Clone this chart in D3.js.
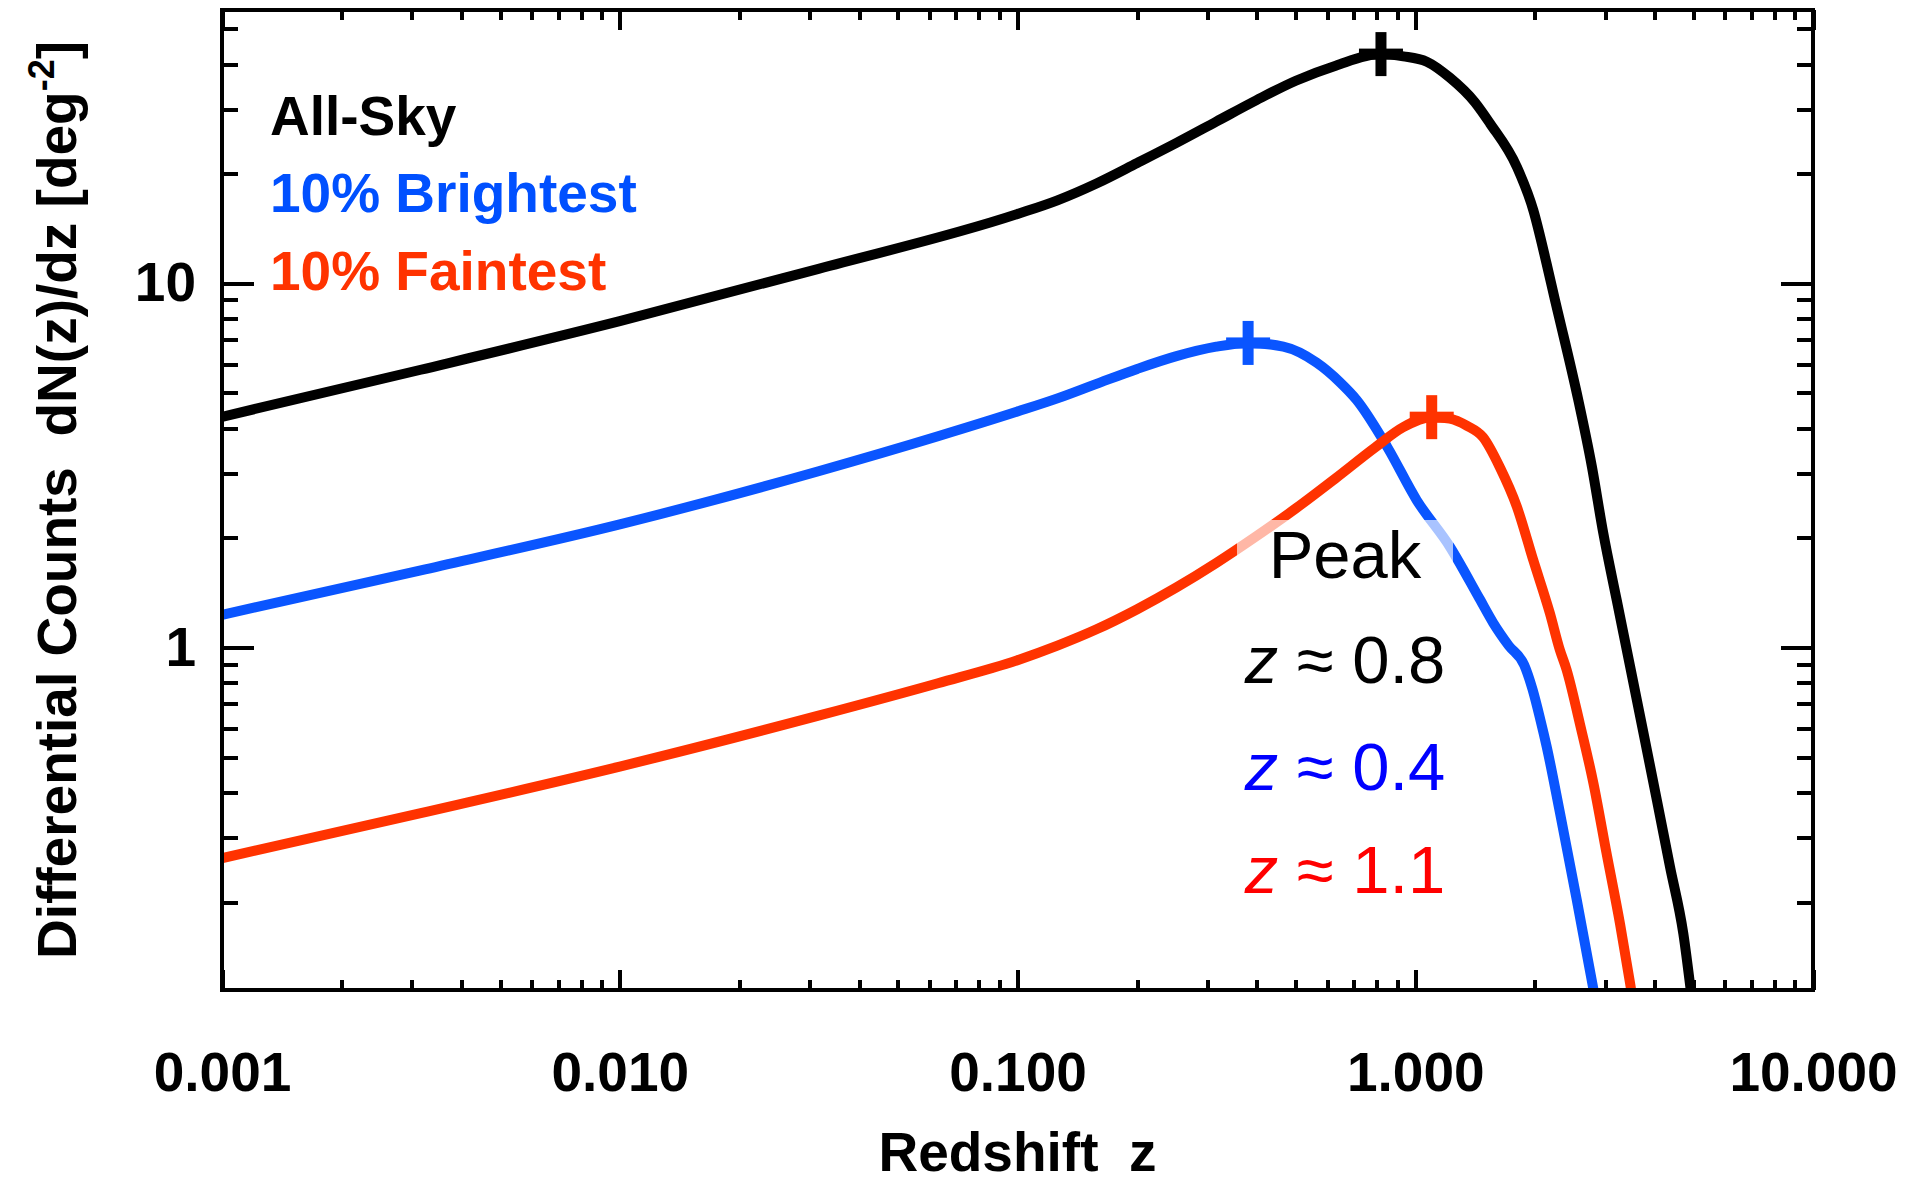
<!DOCTYPE html>
<html>
<head>
<meta charset="utf-8">
<script src="https://cdn.jsdelivr.net/npm/d3@7"></script>
<style>
  html, body { margin: 0; padding: 0; background: #ffffff; }
  svg { display: block; }
  text { font-family: "Liberation Sans", Arial, Helvetica, sans-serif; }
</style>
</head>
<body>
<svg id="chart" width="1923" height="1185"></svg>
<script>
// Redshift grid and differential counts dN/dz [deg^-2] for each sample
const allSkyZ = [0.001, 0.00316, 0.01, 0.0316, 0.1, 0.126, 0.158, 0.2, 0.251, 0.316, 0.398, 0.501, 0.631, 0.82, 0.933, 1.069, 1.222, 1.413, 1.541, 1.80, 1.98, 2.14, 2.245, 2.31, 2.57, 2.78, 2.97, 3.21, 3.47, 3.75, 4.05, 4.37, 4.72, 4.95];
const allSkyN = [4.30, 5.79, 7.87, 10.96, 15.5, 16.9, 18.8, 21.4, 24.3, 27.8, 31.8, 36.0, 39.6, 42.6, 42.0, 40.6, 36.7, 31.4, 27.5, 20.9, 15.9, 11.3, 9.0, 7.9, 4.78, 3.14, 2.06, 1.35, 0.886, 0.581, 0.381, 0.25, 0.164, 0.11];

const brightZ = [0.001, 0.00316, 0.01, 0.0316, 0.0631, 0.1, 0.126, 0.158, 0.2, 0.251, 0.316, 0.38, 0.466, 0.565, 0.647, 0.712, 0.851, 1.008, 1.222, 1.449, 1.570, 1.718, 1.879, 1.972, 2.065, 2.138, 2.312, 2.547, 2.72, 2.85];
const brightN = [1.230, 1.629, 2.178, 3.048, 3.802, 4.446, 4.831, 5.297, 5.821, 6.310, 6.699, 6.86, 6.699, 6.053, 5.346, 4.786, 3.548, 2.541, 1.891, 1.365, 1.169, 1.012, 0.895, 0.767, 0.631, 0.537, 0.351, 0.203, 0.138, 0.105];

const faintZ = [0.001, 0.00316, 0.01, 0.0316, 0.0631, 0.1, 0.126, 0.158, 0.2, 0.251, 0.316, 0.398, 0.501, 0.631, 0.794, 0.933, 1.10, 1.22, 1.35, 1.48, 1.633, 1.80, 1.98, 2.18, 2.31, 2.40, 2.594, 2.805, 3.027, 3.273, 3.467, 3.55];
const faintN = [0.264, 0.351, 0.471, 0.650, 0.798, 0.923, 1.012, 1.122, 1.274, 1.462, 1.706, 2.018, 2.410, 2.917, 3.548, 4.027, 4.29, 4.25, 4.06, 3.78, 3.12, 2.438, 1.738, 1.242, 0.984, 0.871, 0.617, 0.424, 0.272, 0.174, 0.120, 0.102];

// Peak positions of the three samples
const peakZ = [0.82, 0.38, 1.10];
const peakN = [42.6, 6.86, 4.29];

const seriesNames = ["All-Sky", "10% Brightest", "10% Faintest"];
const peakLabels = ["0.8", "0.4", "1.1"];

// Axis ticks
const xMajorTicks = [0.001, 0.01, 0.1, 1, 10];
const xMinorTicks = [0.001, 0.01, 0.1, 1].flatMap(d => [2, 3, 4, 5, 6, 7, 8, 9].map(k => +(k * d).toPrecision(3)));
const yMajorTicks = [1, 10];
const yMinorTicks = [0.2, 0.3, 0.4, 0.5, 0.6, 0.7, 0.8, 0.9, 2, 3, 4, 5, 6, 7, 8, 9, 20, 30, 40, 50];

const lineColors = ["#000000", "#0a55ff", "#ff3300"];
const labelColors = ["#000000", "#0050ff", "#ff3300"];
const peakTextColors = ["#000000", "#0000ff", "#ff0000"];

const svg = d3.select("#chart");
const plot = { left: 222, right: 1813, top: 10, bottom: 990 };
const W = plot.right - plot.left, H = plot.bottom - plot.top;

const x = d3.scaleLog().domain([0.001, 10]).range([plot.left, plot.right]);
const y = d3.scaleLog().domain([0.1147, 56.3]).range([plot.bottom, plot.top]);

const tickLenX = 0.02 * H, tickLenY = 0.02 * W;
const FONT = 55;

svg.append("defs").append("clipPath").attr("id", "plotClip")
  .append("rect").attr("x", plot.left).attr("y", plot.top).attr("width", W).attr("height", H);

// Curves
const line = d3.line().x(d => x(d[0])).y(d => y(d[1])).curve(d3.curveMonotoneX);
const curves = [
  d3.zip(allSkyZ, allSkyN),
  d3.zip(brightZ, brightN),
  d3.zip(faintZ, faintN)
];
const gCurves = svg.append("g").attr("clip-path", "url(#plotClip)");
gCurves.selectAll("path.curve").data(curves).join("path")
  .attr("class", "curve")
  .attr("d", line)
  .attr("fill", "none")
  .attr("stroke", (d, i) => lineColors[i])
  .attr("stroke-width", 10)
  .attr("stroke-linejoin", "round");

// Peak markers (plus signs)
const arm = 22, armW = 11;
const gPeaks = svg.append("g");
peakZ.forEach((z, i) => {
  const cx = x(z), cy = y(peakN[i]);
  gPeaks.append("rect").attr("x", cx - armW / 2).attr("y", cy - arm).attr("width", armW).attr("height", 2 * arm).attr("fill", lineColors[i]);
  gPeaks.append("rect").attr("x", cx - arm).attr("y", cy - armW / 2).attr("width", 2 * arm).attr("height", armW).attr("fill", lineColors[i]);
});

// Axes with inward ticks on all four sides
function styleAxis(g) {
  g.select(".domain").remove();
  g.selectAll(".tick line").attr("stroke", "#000").attr("stroke-width", 4).attr("shape-rendering", "crispEdges");
  g.selectAll(".tick text").attr("fill", "#000").attr("font-size", FONT).attr("font-weight", "bold")
    .attr("font-family", '"Liberation Sans", Arial, Helvetica, sans-serif');
}
svg.append("g").attr("transform", `translate(0,${plot.bottom})`)
  .call(d3.axisBottom(x).tickValues(xMajorTicks).tickSize(-tickLenX).tickPadding(62).tickFormat(d3.format(".3f")))
  .call(styleAxis);
svg.append("g").attr("transform", `translate(0,${plot.bottom})`)
  .call(d3.axisBottom(x).tickValues(xMinorTicks).tickSize(-tickLenX / 2).tickFormat(""))
  .call(styleAxis);
svg.append("g").attr("transform", `translate(0,${plot.top})`)
  .call(d3.axisTop(x).tickValues(xMajorTicks).tickSize(-tickLenX).tickFormat(""))
  .call(styleAxis);
svg.append("g").attr("transform", `translate(0,${plot.top})`)
  .call(d3.axisTop(x).tickValues(xMinorTicks).tickSize(-tickLenX / 2).tickFormat(""))
  .call(styleAxis);
svg.append("g").attr("transform", `translate(${plot.left},0)`)
  .call(d3.axisLeft(y).tickValues(yMajorTicks).tickSize(-tickLenY).tickPadding(26).tickFormat(d3.format("d")))
  .call(styleAxis);
svg.append("g").attr("transform", `translate(${plot.left},0)`)
  .call(d3.axisLeft(y).tickValues(yMinorTicks).tickSize(-tickLenY / 2).tickFormat(""))
  .call(styleAxis);
svg.append("g").attr("transform", `translate(${plot.right},0)`)
  .call(d3.axisRight(y).tickValues(yMajorTicks).tickSize(-tickLenY).tickFormat(""))
  .call(styleAxis);
svg.append("g").attr("transform", `translate(${plot.right},0)`)
  .call(d3.axisRight(y).tickValues(yMinorTicks).tickSize(-tickLenY / 2).tickFormat(""))
  .call(styleAxis);

// Plot frame
svg.append("rect").attr("x", plot.left).attr("y", plot.top).attr("width", W).attr("height", H)
  .attr("fill", "none").attr("stroke", "#000").attr("stroke-width", 4).attr("shape-rendering", "crispEdges");

// Axis titles
svg.append("text")
  .attr("x", (plot.left + plot.right) / 2).attr("y", 1171)
  .attr("text-anchor", "middle").attr("font-size", FONT).attr("font-weight", "bold")
  .style("white-space", "pre")
  .text("Redshift  z");

const yTitle = svg.append("text")
  .attr("transform", `translate(76,${(plot.top + plot.bottom) / 2}) rotate(-90)`)
  .attr("text-anchor", "middle").attr("font-size", FONT).attr("font-weight", "bold")
  .style("white-space", "pre");
yTitle.append("tspan").text("Differential Counts  dN(z)/dz [deg");
yTitle.append("tspan").attr("font-size", 36).attr("dy", -22).text("-2");
yTitle.append("tspan").attr("dy", 22).text("]");

// Legend
const legendY = [135, 212, 290];
svg.append("g").selectAll("text").data(seriesNames).join("text")
  .attr("x", 270).attr("y", (d, i) => legendY[i])
  .attr("font-size", FONT).attr("font-weight", "bold")
  .attr("fill", (d, i) => labelColors[i])
  .text(d => d);

// Peak annotation on a translucent white panel
svg.append("rect").attr("x", 1237).attr("y", 520).attr("width", 216).attr("height", 400)
  .attr("fill", "#ffffff").attr("fill-opacity", 0.65);
const annX = 1345;
svg.append("text").attr("x", annX).attr("y", 578).attr("text-anchor", "middle")
  .attr("font-size", 67).attr("fill", "#000").text("Peak");
const annY = [683, 790, 893];
peakLabels.forEach((lab, i) => {
  const t = svg.append("text").attr("x", annX).attr("y", annY[i]).attr("text-anchor", "middle")
    .attr("font-size", 67).attr("fill", peakTextColors[i]).style("white-space", "pre");
  t.append("tspan").attr("font-style", "italic").text("z");
  t.append("tspan").text(" \u2248 " + lab);
});
</script>
</body>
</html>
